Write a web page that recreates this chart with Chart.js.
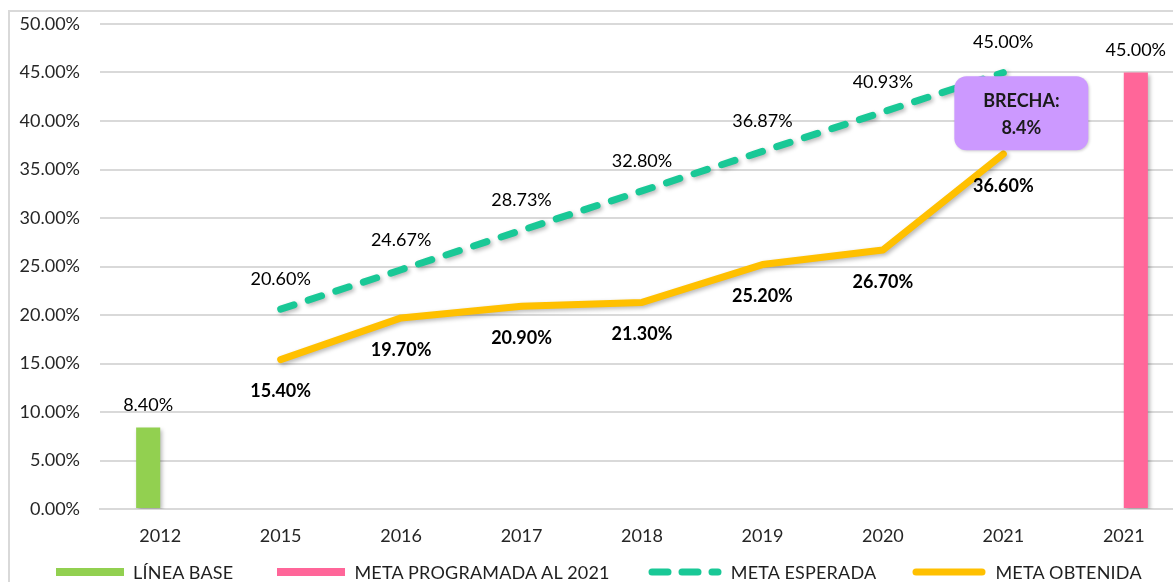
<!DOCTYPE html>
<html>
<head>
<meta charset="utf-8">
<script src="https://cdn.jsdelivr.net/npm/chart.js@4/dist/chart.umd.min.js"></script>
<style>
  html, body { margin: 0; padding: 0; background: #fff; overflow: hidden; }
  #frame {
    position: absolute; left: 8px; top: 10px; width: 1300px; height: 700px;
    border-left: 2px solid #d9d9d9; border-top: 2px solid #d9d9d9;
  }
  #myChart { position: absolute; left: 0; top: 0; }
  #legend {
    position: absolute; left: 56px; top: 561px; height: 22px;
    display: flex; align-items: center;
    font-family: Lato, "Open Sans", sans-serif; font-size: 18px; color: #1f1f1f;
    letter-spacing: 0.2px; white-space: nowrap;
  }
  .item { display: flex; align-items: center; }
  .sym { display: inline-block; margin-right: 9px; }
</style>
</head>
<body>
<div id="frame"></div>
<canvas id="myChart" width="1210" height="582"></canvas>
<div id="legend"></div>
<script>
// data
const categories = ["2012", "2015", "2016", "2017", "2018", "2019", "2020", "2021", "2021"];
const lineaBase = [8.4, null, null, null, null, null, null, null, null];
const metaProgramada = [null, null, null, null, null, null, null, null, 45.0];
const metaEsperada = [null, 20.6, 24.67, 28.73, 32.8, 36.87, 40.93, 45.0, null];
const metaObtenida = [null, 15.4, 19.7, 20.9, 21.3, 25.2, 26.7, 36.6, null];
const yMin = 0;
const yMax = 50;
const yStep = 5;
const brechaIndex = 7;

const COLOR = {
  base: "#92D050",
  programada: "#FF6699",
  esperada: "#19C896",
  obtenida: "#FFC000",
  brecha: "#CC99FF",
  grid: "#d9d9d9",
  text: "#262626",
};
const FONT = "Lato, 'Open Sans', sans-serif";
const DASH = [14, 15];
const LEGEND_GAPS = [44, 38, 36, 0];

const pct = v => v.toFixed(2) + "%";

// labels per dataset: vertical offset from the point, weight
const LABEL_STYLE = [
  { dy: -22, weight: "normal" },
  { dy: -22, weight: "normal" },
  { dy: -30, weight: "normal" },
  { dy: 32, weight: "bold" },
];

// soft shadow under bars and lines
const shadowPlugin = {
  id: "shadow",
  beforeDatasetDraw(chart) {
    const ctx = chart.ctx;
    ctx.save();
    ctx.shadowColor = "rgba(0,0,0,0.28)";
    ctx.shadowBlur = 4;
    ctx.shadowOffsetX = 2;
    ctx.shadowOffsetY = 2;
  },
  afterDatasetDraw(chart) {
    chart.ctx.restore();
  },
};

// value labels and the BRECHA callout
const labelPlugin = {
  id: "labels",
  afterDatasetsDraw(chart) {
    const ctx = chart.ctx;
    ctx.save();
    ctx.textAlign = "center";
    ctx.textBaseline = "middle";
    ctx.fillStyle = "#000";
    chart.data.datasets.forEach((ds, di) => {
      const meta = chart.getDatasetMeta(di);
      const st = LABEL_STYLE[di];
      ctx.font = `${st.weight} 18px ${FONT}`;
      ds.data.forEach((v, i) => {
        if (v === null) return;
        const el = meta.data[i];
        ctx.fillText(pct(v), el.x, el.y + st.dy);
      });
    });

    // callout between the two lines at 2021
    const yScale = chart.scales.y;
    const pt = chart.getDatasetMeta(2).data[brechaIndex];
    const gap = metaEsperada[brechaIndex] - metaObtenida[brechaIndex];
    const mid = (metaEsperada[brechaIndex] + metaObtenida[brechaIndex]) / 2;
    const cx = pt.x + 18;
    const cy = yScale.getPixelForValue(mid);
    const w = 134, h = 74;
    ctx.shadowColor = "rgba(0,0,0,0.2)";
    ctx.shadowBlur = 3;
    ctx.shadowOffsetX = 1;
    ctx.shadowOffsetY = 1;
    ctx.fillStyle = COLOR.brecha;
    ctx.beginPath();
    ctx.roundRect(cx - w / 2, cy - h / 2, w, h, 12);
    ctx.fill();
    ctx.shadowColor = "transparent";
    ctx.fillStyle = "#1a1a1a";
    ctx.font = `bold 18px ${FONT}`;
    ctx.fillText("BRECHA:", cx, cy - 12);
    ctx.fillText(gap.toFixed(1) + "%", cx, cy + 15);
    ctx.restore();
  },
};

const datasets = [
  {
    label: "LÍNEA BASE",
    data: lineaBase,
    backgroundColor: COLOR.base,
    borderWidth: 0,
    barPercentage: 1,
    categoryPercentage: 0.4,
  },
  {
    label: "META PROGRAMADA AL 2021",
    data: metaProgramada,
    backgroundColor: COLOR.programada,
    borderWidth: 0,
    barPercentage: 1,
    categoryPercentage: 0.4,
  },
  {
    type: "line",
    label: "META ESPERADA",
    data: metaEsperada,
    borderColor: COLOR.esperada,
    backgroundColor: COLOR.esperada,
    borderWidth: 7,
    borderDash: DASH,
    borderCapStyle: "round",
    pointRadius: 0,
    tension: 0,
  },
  {
    type: "line",
    label: "META OBTENIDA",
    data: metaObtenida,
    borderColor: COLOR.obtenida,
    backgroundColor: COLOR.obtenida,
    borderWidth: 7,
    borderCapStyle: "round",
    borderJoinStyle: "round",
    pointRadius: 0,
    tension: 0,
  },
];

const ctx = document.getElementById("myChart").getContext("2d");
new Chart(ctx, {
  type: "bar",
  data: { labels: categories, datasets },
  options: {
    responsive: false,
    animation: false,
    devicePixelRatio: 1,
    layout: { padding: { top: 24, right: 26, left: 0, bottom: 0 } },
    plugins: {
      legend: { display: false },
      title: { display: false },
      tooltip: { enabled: false },
    },
    scales: {
      x: {
        grid: { display: false, drawTicks: false },
        border: { display: true, color: COLOR.grid, width: 2 },
        ticks: {
          color: COLOR.text,
          font: { family: FONT, size: 18 },
          padding: 16,
          maxRotation: 0,
          autoSkip: false,
        },
        afterFit: scale => {
          scale.height = 73;
        },
      },
      y: {
        min: yMin,
        max: yMax,
        grid: { color: COLOR.grid, lineWidth: 2, drawTicks: false },
        border: { display: false },
        ticks: {
          stepSize: yStep,
          color: COLOR.text,
          font: { family: FONT, size: 18 },
          padding: 20,
          callback: v => pct(v),
        },
        afterFit: scale => {
          scale.width = 100;
          // tick padding is horizontal only here
          scale.paddingTop = 0;
          scale.paddingBottom = 0;
        },
      },
    },
  },
  plugins: [shadowPlugin, labelPlugin],
});

// custom legend, like the original's long swatches
const legendEl = document.getElementById("legend");
datasets.forEach((ds, i) => {
  const item = document.createElement("div");
  item.className = "item";
  item.style.marginRight = LEGEND_GAPS[i] + "px";
  let sym;
  if (ds.type === "line") {
    sym = document.createElementNS("http://www.w3.org/2000/svg", "svg");
    sym.setAttribute("width", "74");
    sym.setAttribute("height", "8");
    sym.setAttribute("class", "sym");
    const ln = document.createElementNS("http://www.w3.org/2000/svg", "line");
    ln.setAttribute("x1", "4");
    ln.setAttribute("x2", "70");
    ln.setAttribute("y1", "4");
    ln.setAttribute("y2", "4");
    ln.setAttribute("stroke", ds.borderColor);
    ln.setAttribute("stroke-width", "7");
    ln.setAttribute("stroke-linecap", "round");
    if (ds.borderDash) ln.setAttribute("stroke-dasharray", "16 14");
    sym.appendChild(ln);
  } else {
    sym = document.createElement("span");
    sym.className = "sym";
    sym.style.width = "68px";
    sym.style.height = "8px";
    sym.style.background = ds.backgroundColor;
  }
  const txt = document.createElement("span");
  txt.textContent = ds.label;
  item.appendChild(sym);
  item.appendChild(txt);
  legendEl.appendChild(item);
});
</script>
</body>
</html>
